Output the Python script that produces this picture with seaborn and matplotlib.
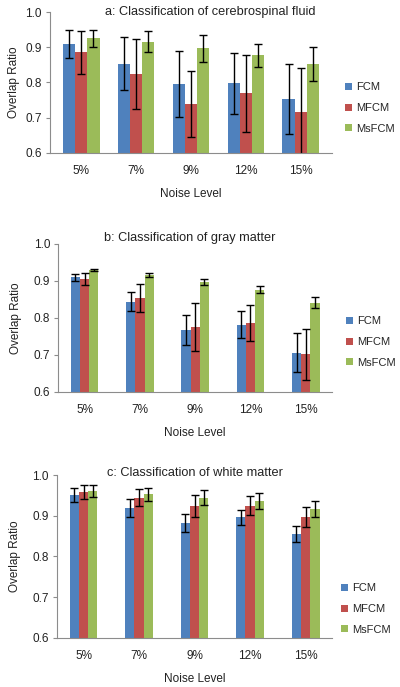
import pandas as pd
import seaborn as sns
import matplotlib.pyplot as plt

# Noise levels and methods
noise = ["5%", "7%", "9%", "12%", "15%"]
methods = ["FCM", "MFCM", "MsFCM"]
colors = ["#4F81BD", "#C0504D", "#9BBB59"]

# a: cerebrospinal fluid
csf_fcm = [0.909, 0.854, 0.796, 0.798, 0.753]
csf_mfcm = [0.886, 0.825, 0.738, 0.769, 0.717]
csf_msfcm = [0.926, 0.916, 0.897, 0.877, 0.852]
csf_fcm_err = [0.039, 0.076, 0.093, 0.087, 0.099]
csf_mfcm_err = [0.061, 0.100, 0.094, 0.109, 0.124]
csf_msfcm_err = [0.024, 0.030, 0.038, 0.033, 0.049]

# b: gray matter
gm_fcm = [0.909, 0.843, 0.767, 0.781, 0.706]
gm_mfcm = [0.905, 0.854, 0.776, 0.786, 0.701]
gm_msfcm = [0.929, 0.915, 0.897, 0.876, 0.841]
gm_fcm_err = [0.009, 0.026, 0.041, 0.036, 0.052]
gm_mfcm_err = [0.017, 0.038, 0.065, 0.048, 0.068]
gm_msfcm_err = [0.004, 0.005, 0.009, 0.009, 0.015]

# c: white matter
wm_fcm = [0.951, 0.919, 0.882, 0.896, 0.855]
wm_mfcm = [0.959, 0.945, 0.925, 0.925, 0.897]
wm_msfcm = [0.961, 0.953, 0.945, 0.937, 0.917]
wm_fcm_err = [0.017, 0.023, 0.022, 0.019, 0.020]
wm_mfcm_err = [0.018, 0.022, 0.027, 0.024, 0.025]
wm_msfcm_err = [0.015, 0.016, 0.019, 0.019, 0.020]

sns.set_style("white")
plt.rcParams['font.family'] = ['Liberation Sans', 'DejaVu Sans']

fig = plt.figure(figsize=(4.0, 6.87), dpi=100)

panels = [
    {"title": "a: Classification of cerebrospinal fluid",
     "vals": [csf_fcm, csf_mfcm, csf_msfcm],
     "errs": [csf_fcm_err, csf_mfcm_err, csf_msfcm_err],
     "rect": [0.125, 0.7777, 0.705, 0.2045], "width": 0.67,
     "title_pos": (0.57, 1.0), "leg": (345, 108), "ylpad": 4},
    {"title": "b: Classification of gray matter",
     "vals": [gm_fcm, gm_mfcm, gm_msfcm],
     "errs": [gm_fcm_err, gm_mfcm_err, gm_msfcm_err],
     "rect": [0.146, 0.4298, 0.684, 0.2154], "width": 0.5,
     "title_pos": (0.48, 1.04), "leg": (346, 342), "ylpad": 8},
    {"title": "c: Classification of white matter",
     "vals": [wm_fcm, wm_mfcm, wm_msfcm],
     "errs": [wm_fcm_err, wm_mfcm_err, wm_msfcm_err],
     "rect": [0.143, 0.0718, 0.687, 0.2365], "width": 0.5,
     "title_pos": (0.5, 1.012), "leg": (341, 609), "ylpad": 8},
]

for p in panels:
    ax = fig.add_axes(p["rect"])
    df = pd.DataFrame({
        "noise": noise * 3,
        "method": [m for m in methods for _ in noise],
        "value": p["vals"][0] + p["vals"][1] + p["vals"][2],
    })
    sns.barplot(data=df, x="noise", y="value", hue="method", hue_order=methods,
                palette=colors, saturation=1, width=p["width"], errorbar=None,
                linewidth=0, ax=ax)

    # error bars on top of each bar
    for cont, err in zip(ax.containers, p["errs"]):
        xs = [b.get_x() + b.get_width() / 2 for b in cont]
        ys = [b.get_height() for b in cont]
        ax.errorbar(xs, ys, yerr=err, fmt="none", ecolor="black",
                    elinewidth=1, capsize=2.8, capthick=1)

    ax.set_ylim(0.6, 1.0)
    ax.set_yticks([0.6, 0.7, 0.8, 0.9, 1.0])
    ax.set_yticklabels(["0.6", "0.7", "0.8", "0.9", "1.0"])
    for s in ["top", "right"]:
        ax.spines[s].set_visible(False)
    for s in ["left", "bottom"]:
        ax.spines[s].set_color("#8c8c8c")
        ax.spines[s].set_linewidth(0.8)
    ax.tick_params(axis="y", left=True, length=3, width=0.8, color="#8c8c8c",
                   labelsize=8.5, pad=3, labelcolor="#222222")
    ax.tick_params(axis="x", length=0, pad=9, labelsize=8.5, labelcolor="#222222")
    ax.set_xlabel("Noise Level", fontsize=8.5, labelpad=8, color="#222222")
    ax.set_ylabel("Overlap Ratio", fontsize=8.5, labelpad=p["ylpad"], color="#222222")
    ax.text(p["title_pos"][0], p["title_pos"][1], p["title"], transform=ax.transAxes,
            ha="center", va="center", fontsize=9.2, color="#222222")

    lx, ly = p["leg"]
    ax.legend(loc="center left", bbox_to_anchor=(lx / 400, 1 - ly / 687),
              bbox_transform=fig.transFigure, frameon=False, fontsize=8,
              handlelength=0.6, handleheight=0.6, handletextpad=0.4,
              labelspacing=0.95, borderpad=0, borderaxespad=0)

fig.savefig("out.png", dpi=100, facecolor="white")
